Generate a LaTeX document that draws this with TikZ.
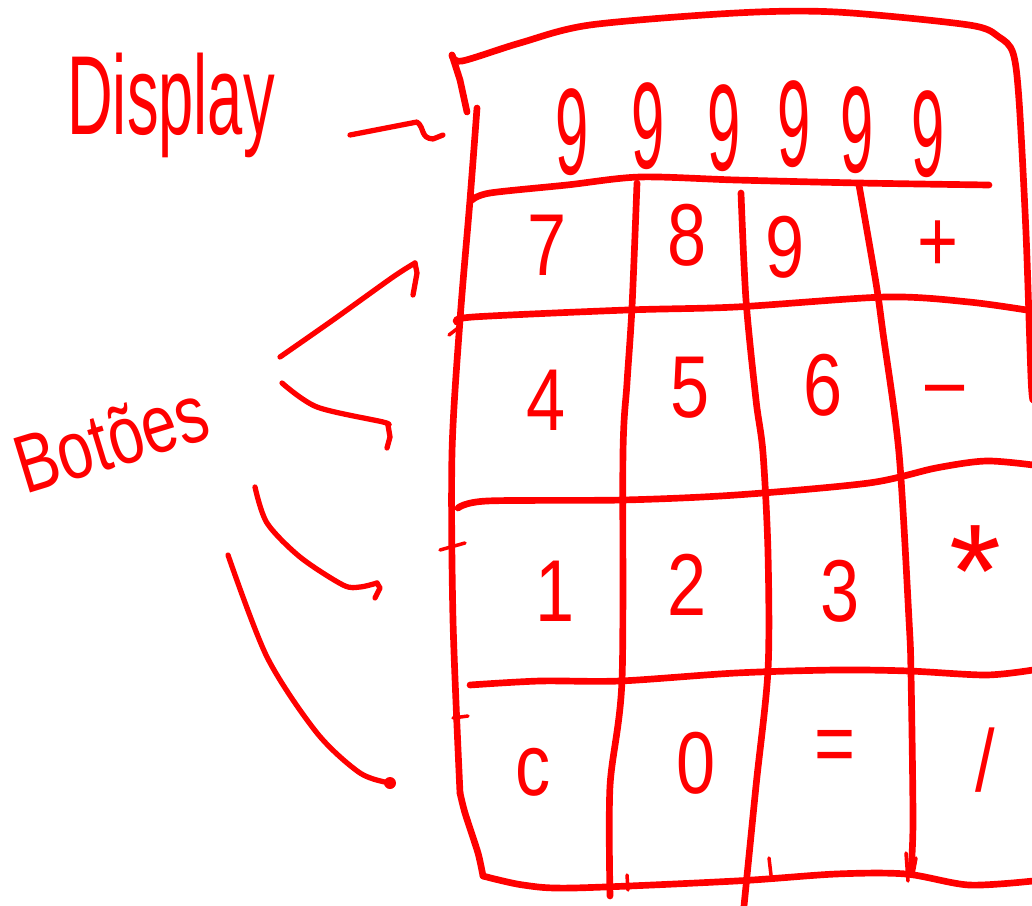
\documentclass[tikz,border=0pt]{standalone}
\usepackage{fontspec}
\setmainfont{Liberation Sans}
\begin{document}
\begin{tikzpicture}[x=0.02cm,y=-0.02cm,
  ink/.style={draw=red, line width=3.8pt, line cap=round, line join=round},
  pen/.style={draw=red, line width=3pt, line cap=round, line join=round},
  tick/.style={draw=red, line width=2pt, line cap=round},
  hand/.style={text=red, font=\fontsize{40}{48}\selectfont, inner sep=0pt},
  disp/.style={hand, xscale=0.85, yscale=1.75},
  key/.style={hand, yscale=1.25},
]
\fill[white] (0,0) rectangle (1032,906);
\useasboundingbox (0,0) rectangle (1032,906);

% ---------- outer frame ----------
\draw[ink] (467,112) -- (460,80) -- (452,55);
\draw[ink] plot[smooth, tension=0.5] coordinates {(452,55) (462,61) (520,43) (590,25) (736,13) (836,12) (969,25) (999,37) (1013,53) (1019,100) (1026,233) (1031,377) (1033,400)};
\draw[ink] plot[smooth, tension=0.5] coordinates {(477,108) (470,200) (460,320) (452,453) (453,620) (460,793)};
\draw[ink] plot[smooth, tension=0.4] coordinates {(460,793) (465,813) (478,853) (483,876)};
\draw[ink] plot[smooth, tension=0.5] coordinates {(483,876) (523,885) (573,888) (736,881) (836,874) (906,874) (969,885) (1033,881)};

% ---------- row lines ----------
\draw[ink] plot[smooth, tension=0.5] coordinates {(472,200) (490,193) (567,185) (640,177) (736,180) (859,183) (989,185)};
\draw[ink] plot[smooth, tension=0.5] coordinates {(457,322) (473,317) (627,310) (736,307) (886,297) (969,302) (1033,311)};
\draw[ink] plot[smooth, tension=0.5] coordinates {(458,508) (487,501) (623,500) (736,495) (869,483) (936,468) (986,461) (1033,465)};
\draw[ink] plot[smooth, tension=0.5] coordinates {(470,685) (540,681) (620,681) (736,673) (836,670) (909,671) (986,675) (1033,670)};

% ---------- column lines ----------
\draw[ink] plot[smooth, tension=0.5] coordinates {(637,183) (632,307) (627,383) (623,453) (622,680) (610,786) (610,896)};
\draw[ink] plot[smooth, tension=0.5] coordinates {(741,193) (746,300) (756,400) (763,453) (768,553) (768,670) (756,786) (744,906)};
\draw[ink] plot[smooth, tension=0.5] coordinates {(859,185) (876,283) (883,333) (899,453) (909,620) (911,673) (913,820) (911,870)};

% ---------- small ticks ----------
\draw[tick] (449,335) -- (458,328);
\draw[tick] (440,550) -- (465,543);
\draw[tick] (453,718) -- (468,716);
\draw[tick] (627,875) -- (628,890);
\draw[tick] (769,858) -- (771,875);
\draw[tick] (906,853) -- (908,881);
\draw[tick] (916,858) -- (913,874);

% ---------- labels ----------
\node[hand, anchor=base west, xscale=0.9, yscale=1.6] (displaylabel) at (67,134) {Display};
\node[hand, anchor=base west, rotate=17, yscale=1.3, font=\fontsize{36}{40}\selectfont] (botoes) at (25,495) {Botões};

% display digits
\node[disp] (d1) at (572,132) {9};
\node[disp] (d2) at (648,126) {9};
\node[disp] (d3) at (724,128) {9};
\node[disp] (d4) at (794,124) {9};
\node[disp] (d5) at (857,130) {9};
\node[disp] (d6) at (928,134) {9};

% keys
\node[key] (k7) at (547,245) {7};
\node[key] (k8) at (687,235) {8};
\node[key] (k9) at (785,247) {9};
\node[key] (kplus) at (938,246) {+};
\node[key] (k4) at (546,400) {4};
\node[key] (k5) at (690,388) {5};
\node[key] (k6) at (823,385) {6};
\node[key] (kminus) at (945,398) {–};
\node[key] (k1) at (555,591) {1};
\node[key] (k2) at (687,585) {2};
\node[key] (k3) at (840,591) {3};
\node[hand, scale=1.9] (kstar) at (975,572) {*};
\node[key] (kc) at (533,772) {c};
\node[key] (k0) at (696,763) {0};
\node[key] (keq) at (835,752) {=};
\node[key] (kdiv) at (985,760) {/};

% ---------- arrows ----------
\coordinate (dispFrom) at (350,135);
\coordinate (dispTo) at (417,122);
\draw[pen] (dispFrom) -- (dispTo) .. controls (425,128) and (420,138) .. (433,139) -- (443,135);

\coordinate (a1from) at (280,357);
\coordinate (a1to) at (415,263);
\draw[pen] plot[smooth, tension=0.5] coordinates {(a1from) (333,320) (393,277) (a1to)};
\draw[pen] (a1to) -- (417,273) -- (413,295);

\coordinate (a2from) at (282,383);
\coordinate (a2to) at (388,425);
\draw[pen] plot[smooth, tension=0.5] coordinates {(a2from) (317,407) (383,422) (a2to)};
\draw[pen] (a2to) -- (390,437) -- (387,448);

\coordinate (a3from) at (255,487);
\coordinate (a3to) at (377,583);
\draw[pen] plot[smooth, tension=0.5] coordinates {(a3from) (267,523) (300,557) (343,585) (360,587) (a3to)};
\draw[pen] (a3to) -- (380,588) -- (375,598);

\coordinate (a4from) at (228,555);
\coordinate (a4to) at (390,783);
\draw[pen] plot[smooth, tension=0.5] coordinates {(a4from) (267,657) (317,733) (360,773) (a4to)};
\fill[red] (a4to) circle (6);
\end{tikzpicture}
\end{document}
